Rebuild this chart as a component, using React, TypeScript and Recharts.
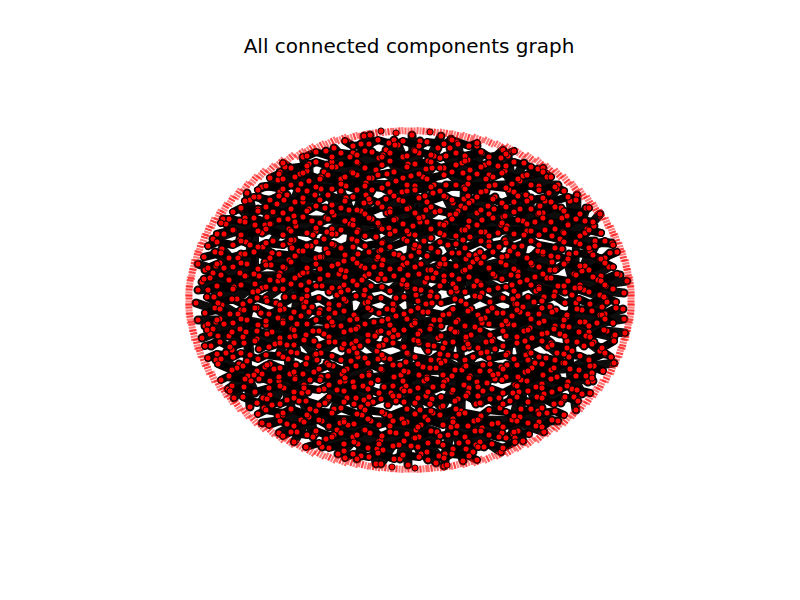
import { ScatterChart, Scatter, XAxis, YAxis } from "recharts";

type Pt = [number, number];

const TITLE = "All connected components graph";

// faint red ring of small components around the main component
const RING_CENTER: Pt = [410, 300];
const RING_BOTTOM_RIGHT: Pt[] = [[631,300],[631,309],[630,318],[628,326],[626,335],[623,344],[620,352],[616,361],[612,369],[607,377],[601,385],[595,392],[589,399],[582,406],[574,413],[566,420],[558,426],[549,431],[540,437],[530,442],[520,446],[510,451],[500,454],[489,458],[478,461],[467,463],[456,465],[445,467],[433,468],[422,469]];
const RING_BOTTOM_LEFT: Pt[] = [[410,469],[398,469],[387,468],[375,467],[364,465],[353,463],[342,461],[331,458],[320,454],[310,451],[300,446],[290,442],[280,437],[271,431],[262,426],[254,420],[246,413],[238,406],[231,399],[225,392],[219,385],[213,377],[208,369],[204,361],[200,352],[197,344],[194,335],[192,326],[190,318],[189,309]];
const RING_TOP_LEFT: Pt[] = [[189,300],[189,291],[190,282],[192,274],[194,265],[197,256],[200,248],[204,239],[208,231],[213,223],[219,215],[225,208],[231,201],[238,194],[246,187],[254,180],[262,174],[271,169],[280,163],[290,158],[300,154],[310,149],[320,146],[331,142],[342,139],[353,137],[364,135],[375,133],[387,132],[398,131]];
const RING_TOP_RIGHT: Pt[] = [[410,131],[422,131],[433,132],[445,133],[456,135],[467,137],[478,139],[489,142],[500,146],[510,149],[520,154],[530,158],[540,163],[549,169],[558,174],[566,180],[574,187],[582,194],[589,201],[595,208],[601,215],[607,223],[612,231],[616,239],[620,248],[623,256],[626,265],[628,274],[630,282],[631,291]];

// node clusters, first point of each list is the hub the others link to
const c1r0: Pt[] = [[309,181],[303,157],[309,164],[280,172],[285,167],[300,174],[307,171],[262,187],[278,180],[283,179],[301,184]];
const c2r0: Pt[] = [[366,183],[364,136],[370,135],[326,151],[334,148],[353,153],[361,144],[372,152],[327,165],[332,162],[350,157],[358,163],[379,158],[324,172],[336,167],[352,172],[357,175],[376,170],[321,177],[341,179],[346,186],[372,178]];
const c3r0: Pt[] = [[415,186],[389,143],[394,140],[412,135],[420,141],[441,136],[386,150],[398,145],[414,150],[419,153],[438,148],[383,155],[403,157],[408,164],[428,161],[434,156],[387,174],[394,171],[411,176],[426,169],[432,168],[388,184],[396,181],[423,177],[434,185]];
const c4r0: Pt[] = [[464,187],[451,139],[457,142],[450,148],[458,144],[477,146],[482,153],[503,150],[446,156],[462,163],[468,160],[485,165],[501,158],[444,168],[463,173],[470,170],[489,175],[498,166],[446,185],[468,184],[486,179],[495,185]];
const c5r0: Pt[] = [[512,184],[508,156],[524,163],[505,171],[523,176],[538,169],[543,168],[520,181],[539,186],[547,177],[558,185]];

const c0r1: Pt[] = [[255,225],[247,193],[241,209],[250,200],[223,219],[240,221],[245,218],[226,224],[234,230],[213,239],[224,234],[240,239],[246,242]];
const c1r1: Pt[] = [[288,219],[259,197],[280,192],[287,195],[298,190],[315,195],[258,209],[277,204],[284,200],[303,202],[309,209],[267,217],[273,212],[294,216],[312,221],[265,225],[271,224],[289,229],[296,226],[316,231],[262,233],[273,241],[290,243],[294,240],[313,235]];
const c2r1: Pt[] = [[353,220],[321,189],[341,191],[346,198],[366,195],[372,190],[325,208],[332,205],[349,210],[364,203],[370,202],[326,218],[334,215],[361,211],[372,219],[327,232],[332,229],[350,224],[358,230],[379,225],[324,239],[336,234],[352,239],[357,242],[376,237]];
const c3r1: Pt[] = [[413,226],[386,199],[402,192],[407,191],[425,196],[433,193],[390,209],[399,200],[409,208],[426,210],[431,207],[387,213],[396,219],[416,214],[423,217],[435,212],[389,228],[395,231],[420,222],[440,224],[383,242],[404,239],[409,234],[424,241],[431,238]];
const c4r1: Pt[] = [[462,230],[446,197],[464,199],[468,196],[486,191],[495,197],[453,203],[461,206],[472,201],[488,206],[494,209],[450,215],[458,211],[477,213],[482,220],[503,217],[446,223],[468,227],[485,232],[501,225],[444,235],[463,240],[470,237],[489,242],[498,233]];
const c5r1: Pt[] = [[527,231],[509,190],[526,195],[531,198],[549,193],[557,189],[514,202],[520,209],[540,206],[545,201],[561,208],[505,216],[523,221],[538,214],[543,213],[562,218],[507,226],[535,222],[545,230],[563,232],[505,240],[524,235],[532,241],[552,236],[560,239]];
const c6r1: Pt[] = [[576,242],[577,195],[570,201],[586,208],[567,216],[585,221],[600,214],[568,224],[587,229],[594,226],[585,233],[595,241],[612,243]];

const c0r2: Pt[] = [[255,284],[215,252],[222,249],[241,254],[250,245],[198,264],[216,266],[220,263],[238,258],[247,264],[205,270],[213,273],[224,268],[240,273],[246,276],[202,282],[210,278],[229,280],[234,287],[198,290],[214,297],[220,294],[237,299],[253,292]];
const c1r2: Pt[] = [[300,275],[263,247],[272,253],[292,248],[299,251],[311,246],[265,262],[271,265],[289,260],[296,256],[316,258],[259,276],[280,273],[285,268],[307,272],[262,288],[278,281],[283,280],[301,285],[309,282],[266,298],[275,289],[285,297],[302,299],[307,296]];
const c2r2: Pt[] = [[346,271],[326,249],[334,245],[353,247],[358,254],[379,251],[322,257],[338,264],[344,261],[361,266],[377,259],[320,269],[339,274],[365,276],[374,267],[322,286],[340,288],[344,285],[362,280],[371,286],[329,292],[337,295],[348,290],[364,295],[370,298]];
const c3r2: Pt[] = [[408,275],[381,250],[399,255],[414,248],[419,247],[438,252],[383,260],[403,265],[411,256],[421,264],[439,266],[381,274],[400,269],[428,270],[436,273],[385,279],[402,284],[407,287],[425,282],[433,278],[390,291],[396,298],[416,295],[421,290],[437,297]];
const c4r2: Pt[] = [[463,271],[448,245],[459,253],[476,255],[480,252],[499,247],[445,264],[466,259],[473,262],[484,257],[501,262],[444,276],[470,267],[489,269],[495,276],[453,284],[459,279],[474,286],[480,283],[498,288],[451,292],[457,291],[475,296],[482,293],[502,298]];
const c5r2: Pt[] = [[518,272],[510,251],[522,246],[538,251],[543,254],[562,249],[507,256],[527,258],[532,265],[552,262],[558,257],[511,275],[535,277],[550,270],[556,269],[512,285],[520,282],[539,287],[547,278],[558,286],[513,299],[518,296],[536,291],[544,297],[565,292]];
const c6r2: Pt[] = [[575,288],[569,254],[590,251],[595,246],[610,253],[567,261],[585,266],[600,259],[605,258],[574,274],[582,271],[601,276],[609,267],[620,275],[580,285],[598,280],[606,286],[627,281],[572,295],[584,290],[600,295],[605,298],[624,293]];

const c0r3: Pt[] = [[247,320],[196,303],[215,308],[222,305],[241,310],[250,301],[198,320],[216,322],[220,319],[238,314],[205,326],[213,329],[224,324],[240,329],[246,332],[202,338],[210,334],[229,336],[234,343],[255,340],[211,346],[226,353],[232,350],[250,355]];
const c1r3: Pt[] = [[292,329],[257,308],[276,303],[284,309],[304,304],[312,307],[261,313],[278,318],[283,321],[301,316],[309,312],[266,325],[272,332],[297,324],[313,331],[257,339],[275,344],[290,337],[295,336],[314,341],[259,349],[279,354],[287,345],[297,353],[315,355]];
const c2r3: Pt[] = [[351,330],[320,310],[339,305],[346,301],[365,303],[371,310],[329,318],[335,313],[350,320],[356,317],[374,322],[327,326],[333,325],[358,327],[378,332],[324,334],[335,342],[352,344],[356,341],[375,336],[321,353],[342,348],[349,351],[360,346],[377,351]];
const c3r3: Pt[] = [[412,325],[387,309],[394,306],[411,311],[426,304],[432,303],[388,319],[396,316],[415,321],[423,312],[434,320],[389,333],[394,330],[420,331],[441,326],[386,340],[398,335],[414,340],[419,343],[438,338],[383,345],[403,347],[408,354],[428,351],[434,346]];
const c4r3: Pt[] = [[458,320],[452,310],[461,301],[471,309],[488,311],[493,308],[449,314],[478,315],[485,318],[497,313],[451,329],[457,332],[475,327],[482,323],[502,325],[445,343],[466,340],[471,335],[486,342],[493,339],[448,355],[464,348],[469,347],[487,352],[495,349]];
const c5r3: Pt[] = [[512,316],[515,304],[523,307],[534,302],[550,307],[556,310],[520,312],[539,314],[544,321],[565,318],[508,324],[524,331],[530,328],[547,333],[563,326],[506,336],[525,341],[532,338],[551,343],[560,334],[508,353],[526,355],[530,352],[548,347],[557,353]];
const c6r3: Pt[] = [[569,327],[576,303],[582,310],[602,307],[607,302],[623,309],[567,317],[585,322],[600,315],[605,314],[624,319],[589,332],[597,323],[607,331],[625,333],[567,341],[586,336],[594,342],[614,337],[572,351],[584,346],[600,351],[605,354]];

const c0r4: Pt[] = [[248,376],[216,360],[221,359],[239,364],[247,361],[229,377],[237,368],[228,389],[232,386],[251,381],[234,398],[255,393],[250,407]];
const c1r4: Pt[] = [[290,374],[265,367],[270,364],[288,359],[296,365],[317,360],[262,374],[274,369],[295,377],[314,372],[259,379],[279,381],[284,388],[304,385],[310,380],[263,398],[270,395],[287,400],[302,393],[308,392],[264,408],[272,405],[291,410],[299,401],[310,409]];
const c2r4: Pt[] = [[345,381],[327,363],[333,366],[351,361],[358,357],[378,359],[321,377],[342,374],[347,369],[362,376],[369,373],[324,389],[340,382],[363,386],[371,383],[328,399],[337,390],[347,398],[364,400],[369,397],[325,403],[334,409],[354,404],[361,407],[373,402]];
const c3r4: Pt[] = [[408,372],[384,358],[400,365],[406,362],[423,367],[439,360],[382,370],[401,375],[427,377],[436,368],[384,387],[402,389],[406,386],[424,381],[433,387],[391,393],[399,396],[410,391],[426,396],[432,399],[388,405],[396,401],[415,403],[420,410],[441,407]];
const c4r4: Pt[] = [[462,370],[445,361],[465,366],[473,357],[483,365],[501,367],[443,375],[470,376],[490,371],[498,374],[447,380],[464,385],[469,388],[487,383],[495,379],[452,392],[458,399],[478,396],[483,391],[499,398],[443,406],[461,411],[476,404],[481,403],[500,408]];
const c5r4: Pt[] = [[525,372],[507,365],[528,360],[535,363],[546,358],[563,363],[506,377],[532,368],[551,370],[557,377],[515,385],[521,380],[536,387],[542,384],[560,389],[513,393],[519,392],[537,397],[544,394],[564,399],[510,401],[521,409],[538,411],[542,408],[561,403]];
const c6r4: Pt[] = [[570,369],[569,357],[589,359],[594,366],[614,363],[586,376],[592,373],[572,389],[588,382],[593,381],[574,397],[582,394],[576,410]];

const c1r5: Pt[] = [[309,417],[262,423],[278,416],[283,415],[301,420],[279,433],[287,424],[297,432],[315,434],[294,442],[313,437]];
const c2r5: Pt[] = [[371,421],[322,421],[340,423],[344,420],[362,415],[329,427],[337,430],[348,425],[364,430],[370,433],[326,439],[334,435],[353,437],[358,444],[379,441],[322,447],[338,454],[344,451],[361,456],[377,449],[357,459],[376,464]];
const c3r5: Pt[] = [[407,422],[385,414],[402,419],[425,417],[433,413],[390,426],[396,433],[416,430],[421,425],[437,432],[381,440],[399,445],[414,438],[419,437],[438,442],[383,450],[403,455],[411,446],[421,454],[439,456],[381,464],[400,459],[408,465],[428,460],[436,463]];
const c4r5: Pt[] = [[453,419],[459,414],[474,421],[480,418],[498,423],[451,427],[457,426],[475,431],[482,428],[502,433],[448,435],[459,443],[476,445],[480,442],[499,437],[445,454],[466,449],[473,452],[484,447],[501,452],[444,466],[463,461]];
const c5r5: Pt[] = [[512,420],[520,417],[539,422],[547,413],[558,421],[513,434],[518,431],[536,426],[544,432],[515,438],[523,441]];

// loose nodes at the very top and bottom edge
const EDGE_NODES: Pt[] = [[381,131],[396,133],[430,132],[392,467],[415,468],[447,465]];

// further nodes lying between the clusters, each row linked as a chain
const FILL_TOP: Pt[][] = [
  [[345,141],[353,146],[369,144],[378,140],[395,145],[403,141],[419,146],[427,142],[444,144],[452,140],[469,146],[477,143]],
  [[307,156],[316,152],[332,157],[341,153],[357,155],[365,151],[382,157],[390,153],[407,156],[415,151],[431,155],[440,158],[456,153],[465,156],[481,152],[489,157],[506,154],[514,151]],
  [[283,163],[291,168],[307,166],[316,162],[332,167],[341,164],[357,162],[365,168],[382,165],[390,161],[407,167],[415,164],[431,162],[440,168],[456,165],[465,161],[481,167],[489,163],[506,166],[514,162],[531,167]],
  [[270,178],[279,174],[295,177],[303,173],[320,179],[328,175],[345,177],[353,173],[369,178],[378,175],[394,172],[403,178],[419,174],[427,179],[444,175],[452,172],[469,178],[477,174],[493,177],[502,173],[518,179],[527,175],[543,172],[551,177]],
  [[258,190],[266,186],[283,189],[291,185],[307,191],[316,187],[332,189],[341,184],[357,190],[365,186],[382,188],[390,192],[407,185],[415,190],[431,187],[440,191],[456,185],[465,189],[481,192],[489,186],[506,188],[514,192],[531,185],[539,190],[555,187],[564,191]],
  [[245,201],[254,197],[270,200],[279,196],[295,202],[303,198],[320,200],[328,195],[345,201],[353,197],[369,199],[378,203],[394,196],[403,201],[419,198],[427,202],[444,196],[452,200],[469,203],[477,197],[493,199],[502,203],[518,196],[527,201],[543,198],[551,202],[568,197],[576,200]],
];
const FILL_UPPER: Pt[][] = [
  [[233,212],[241,208],[258,211],[266,207],[283,213],[291,209],[307,211],[316,206],[332,212],[341,208],[357,210],[365,214],[382,207],[390,212],[407,209],[415,213],[431,207],[440,211],[456,214],[465,208],[481,210],[489,214],[506,207],[514,212],[531,209],[539,213],[555,207],[564,211],[580,214],[589,208]],
  [[221,223],[229,219],[245,222],[254,218],[270,224],[279,220],[295,222],[303,217],[320,223],[328,219],[345,221],[353,225],[369,218],[378,223],[394,220],[403,224],[419,218],[427,222],[444,225],[452,219],[469,221],[477,225],[493,218],[502,223],[518,220],[527,224],[543,218],[551,222],[568,225],[576,219],[593,222]],
  [[217,234],[233,230],[241,235],[258,231],[266,229],[283,235],[291,231],[307,233],[316,228],[332,234],[341,230],[357,232],[365,236],[382,229],[390,234],[407,231],[415,235],[431,229],[440,233],[456,236],[465,230],[481,232],[489,236],[506,229],[514,234],[531,231],[539,235],[555,229],[564,233],[580,236],[589,230],[601,233]],
  [[208,246],[217,242],[233,245],[241,241],[258,247],[266,243],[283,245],[291,240],[307,246],[316,242],[332,244],[341,248],[357,241],[365,246],[382,243],[390,247],[407,241],[415,245],[431,248],[440,242],[456,244],[465,248],[481,241],[489,246],[506,243],[514,247],[531,241],[539,245],[555,248],[564,242],[580,244],[589,248],[605,241],[613,245]],
  [[204,257],[221,253],[229,258],[245,254],[254,252],[270,258],[279,254],[295,256],[303,251],[320,257],[328,253],[345,255],[353,259],[369,252],[378,257],[394,254],[403,258],[419,252],[427,256],[444,259],[452,253],[469,255],[477,259],[493,252],[502,257],[518,254],[527,258],[543,252],[551,256],[568,259],[576,253],[593,255],[601,259],[617,252]],
  [[208,268],[217,264],[233,267],[241,263],[258,269],[266,265],[283,267],[291,262],[307,268],[316,264],[332,266],[341,270],[357,263],[365,268],[382,265],[390,269],[407,263],[415,267],[431,270],[440,264],[456,266],[465,270],[481,263],[489,268],[506,265],[514,269],[531,263],[539,267],[555,270],[564,264],[580,266],[589,270],[605,263],[613,267]],
];
const FILL_MIDDLE: Pt[][] = [
  [[204,279],[221,275],[229,280],[245,276],[254,274],[270,280],[279,276],[295,278],[303,273],[320,279],[328,275],[345,277],[353,281],[369,274],[378,279],[394,276],[403,280],[419,274],[427,278],[444,281],[452,275],[469,277],[477,281],[493,274],[502,279],[518,276],[527,280],[543,274],[551,278],[568,281],[576,275],[593,277],[601,281],[617,274]],
  [[208,290],[217,286],[233,289],[241,285],[258,291],[266,287],[283,289],[291,284],[307,290],[316,286],[332,288],[341,292],[357,285],[365,290],[382,287],[390,291],[407,285],[415,289],[431,292],[440,286],[456,288],[465,292],[481,285],[489,290],[506,287],[514,291],[531,285],[539,289],[555,292],[564,286],[580,288],[589,292],[605,285],[613,289]],
  [[207,297],[218,303],[232,299],[243,304],[257,298],[267,301],[280,305],[294,297],[306,302],[319,298],[329,304],[344,299],[356,296],[368,302],[381,298],[393,304],[404,297],[418,301],[430,296],[441,303],[455,299],[466,304],[480,297],[490,302],[503,298],[517,304],[528,297],[542,301],[554,296],[565,303],[579,299],[590,304],[604,297],[616,302]],
  [[205,313],[220,309],[230,314],[244,310],[255,308],[269,314],[280,310],[294,312],[304,307],[319,313],[329,309],[344,311],[354,315],[368,308],[379,313],[393,310],[404,314],[418,308],[428,312],[443,315],[453,309],[468,311],[478,315],[492,308],[503,313],[517,310],[528,314],[542,308],[552,312],[567,315],[577,309],[592,311],[602,315],[616,308]],
  [[208,324],[217,320],[233,323],[241,319],[258,325],[266,321],[283,323],[291,318],[307,324],[316,320],[332,322],[341,326],[357,319],[365,324],[382,321],[390,325],[407,319],[415,323],[431,326],[440,320],[456,322],[465,326],[481,319],[489,324],[506,321],[514,325],[531,319],[539,323],[555,326],[564,320],[580,322],[589,326],[605,319],[613,323]],
  [[207,330],[218,336],[232,332],[243,337],[257,331],[267,334],[280,338],[294,330],[306,335],[319,331],[329,337],[344,332],[356,329],[368,335],[381,331],[393,337],[404,330],[418,334],[430,329],[441,336],[455,332],[466,337],[480,330],[490,335],[503,331],[517,337],[528,330],[542,334],[554,329],[565,336],[579,332],[590,337],[604,330],[615,335]],
  [[205,346],[220,342],[230,347],[244,343],[255,341],[269,347],[280,343],[294,345],[304,340],[319,346],[329,342],[344,344],[354,348],[368,341],[379,346],[393,343],[404,347],[418,341],[428,345],[443,348],[453,342],[468,344],[478,348],[492,341],[503,346],[517,343],[528,347],[542,341],[552,345],[567,348],[577,342],[592,344],[602,348],[614,341]],
];
const FILL_LOWER: Pt[][] = [
  [[208,358],[217,354],[233,357],[241,353],[258,359],[266,355],[283,357],[291,352],[307,358],[316,354],[332,356],[341,360],[357,353],[365,358],[382,355],[390,359],[407,353],[415,357],[431,360],[440,354],[456,356],[465,360],[481,353],[489,358],[506,355],[514,359],[531,353],[539,357],[555,360],[564,354],[580,356],[589,360],[605,353],[611,357]],
  [[218,364],[232,370],[243,366],[257,371],[267,365],[280,368],[294,372],[306,364],[319,369],[329,365],[344,371],[356,366],[368,363],[381,369],[393,365],[404,371],[418,364],[430,368],[441,363],[455,370],[466,366],[480,371],[490,364],[503,369],[517,365],[528,371],[542,364],[554,368],[565,363],[579,370],[590,366],[603,371]],
  [[221,380],[229,376],[245,379],[254,375],[270,381],[279,377],[295,379],[303,374],[320,380],[328,376],[345,378],[353,382],[369,375],[378,380],[394,377],[403,381],[419,375],[427,379],[444,382],[452,376],[469,378],[477,382],[493,375],[502,380],[518,377],[527,381],[543,375],[551,379],[568,382],[576,376],[592,378]],
  [[230,391],[244,387],[255,392],[269,388],[280,386],[294,392],[304,388],[319,390],[329,385],[344,391],[354,387],[368,389],[379,393],[393,386],[404,391],[418,388],[428,392],[443,386],[453,390],[468,393],[478,387],[492,389],[503,393],[517,386],[528,391],[542,388],[552,392],[567,386],[577,390],[590,393]],
  [[243,397],[257,403],[267,399],[280,404],[294,398],[306,401],[319,405],[329,397],[344,402],[356,398],[368,404],[381,399],[393,396],[404,402],[418,398],[430,404],[441,397],[455,401],[466,396],[480,403],[490,399],[503,404],[517,397],[528,402],[542,398],[554,404],[565,397],[578,401]],
  [[258,414],[266,410],[283,413],[291,409],[307,415],[316,411],[332,413],[341,408],[357,414],[365,410],[382,412],[390,416],[407,409],[415,414],[431,411],[440,415],[456,409],[465,413],[481,416],[489,410],[506,412],[514,416],[531,409],[539,414],[555,411],[564,415]],
];
const FILL_BOTTOM: Pt[][] = [
  [[269,425],[280,421],[294,426],[304,422],[319,420],[329,426],[344,422],[354,424],[368,419],[379,425],[393,421],[404,423],[418,427],[428,420],[443,425],[453,422],[468,426],[478,420],[492,424],[503,427],[517,421],[528,423],[542,427],[552,420]],
  [[283,436],[291,432],[307,435],[316,431],[332,437],[341,433],[357,435],[365,430],[382,436],[390,432],[407,434],[415,438],[431,431],[440,436],[456,433],[465,437],[481,431],[489,435],[506,438],[514,432],[529,434]],
  [[306,447],[319,443],[329,448],[344,444],[354,442],[368,448],[379,444],[393,446],[404,441],[418,447],[428,443],[443,445],[453,449],[468,442],[478,447],[492,444],[503,448],[515,442]],
  [[345,458],[353,454],[369,457],[378,453],[394,459],[403,455],[419,457],[427,452],[444,458],[452,454],[469,456],[477,460]],
];

const GROUPS: Pt[][] = [
  c1r0, c2r0, c3r0, c4r0, c5r0,
  c0r1, c1r1, c2r1, c3r1, c4r1, c5r1, c6r1,
  c0r2, c1r2, c2r2, c3r2, c4r2, c5r2, c6r2,
  c0r3, c1r3, c2r3, c3r3, c4r3, c5r3, c6r3,
  c0r4, c1r4, c2r4, c3r4, c4r4, c5r4, c6r4,
  c1r5, c2r5, c3r5, c4r5, c5r5,
];

const HUB_LINKS: [Pt[], Pt[]][] = [
  [c1r0, c2r0], [c2r0, c3r0], [c3r0, c4r0], [c4r0, c5r0],
  [c0r1, c1r1], [c1r1, c2r1], [c2r1, c3r1], [c3r1, c4r1], [c4r1, c5r1], [c5r1, c6r1],
  [c0r2, c1r2], [c1r2, c2r2], [c2r2, c3r2], [c3r2, c4r2], [c4r2, c5r2], [c5r2, c6r2],
  [c0r3, c1r3], [c1r3, c2r3], [c2r3, c3r3], [c3r3, c4r3], [c4r3, c5r3], [c5r3, c6r3],
  [c0r4, c1r4], [c1r4, c2r4], [c2r4, c3r4], [c3r4, c4r4], [c4r4, c5r4], [c5r4, c6r4],
  [c1r5, c2r5], [c2r5, c3r5], [c3r5, c4r5], [c4r5, c5r5],
  [c1r0, c1r1], [c2r0, c2r1], [c3r0, c3r1], [c4r0, c4r1], [c5r0, c5r1],
  [c0r1, c0r2], [c1r1, c1r2], [c2r1, c2r2], [c3r1, c3r2], [c4r1, c4r2], [c5r1, c5r2], [c6r1, c6r2],
  [c0r2, c0r3], [c1r2, c1r3], [c2r2, c2r3], [c3r2, c3r3], [c4r2, c4r3], [c5r2, c5r3], [c6r2, c6r3],
  [c0r3, c0r4], [c1r3, c1r4], [c2r3, c2r4], [c3r3, c3r4], [c4r3, c4r4], [c5r3, c5r4], [c6r3, c6r4],
  [c1r4, c1r5], [c2r4, c2r5], [c3r4, c3r5], [c4r4, c4r5], [c5r4, c5r5],
];

const FILL_ROWS: Pt[][] = [...FILL_TOP, ...FILL_UPPER, ...FILL_MIDDLE, ...FILL_LOWER, ...FILL_BOTTOM];

const toXY = ([x, y]: Pt) => ({ x, y });
const starData = (g: Pt[]) => g.slice(1).flatMap(p => [toXY(p), toXY(g[0])]);

const nodeData = [...GROUPS.flat(), ...FILL_ROWS.flat(), ...EDGE_NODES].map(toXY);
const ringData = [...RING_BOTTOM_RIGHT, ...RING_BOTTOM_LEFT, ...RING_TOP_LEFT, ...RING_TOP_RIGHT].map(toXY);

const starLine = {
  stroke: "#000", strokeWidth: 9, strokeOpacity: 0.95,
  strokeLinejoin: "round" as const, strokeLinecap: "round" as const,
};
const linkLine = { ...starLine, strokeWidth: 8 };
const chainLine = { ...starLine, strokeWidth: 8, strokeOpacity: 1 };

const NoDot = () => <g />;

const NodeDot = (p: any) => (
  <circle cx={p.cx} cy={p.cy} r={3.1} fill="#ff0000" stroke="#000" strokeWidth={0.9} />
);

const STREAKS = [
  { off: -4.5, op: 0.6 }, { off: -1.5, op: 0.5 }, { off: 1.5, op: 0.75 }, { off: 4.5, op: 0.55 },
];

const RingDash = (p: any) => {
  const deg = (Math.atan2(p.payload.y - RING_CENTER[1], p.payload.x - RING_CENTER[0]) * 180) / Math.PI;
  return (
    <g transform={`rotate(${deg} ${p.cx} ${p.cy})`}>
      {STREAKS.map((s, i) => (
        <line
          key={i} x1={p.cx - 3.5} x2={p.cx + 3.5} y1={p.cy + s.off} y2={p.cy + s.off}
          stroke="#ff0000" strokeOpacity={s.op} strokeWidth={2.2}
        />
      ))}
    </g>
  );
};

export default function App() {
  return (
    <div style={{ position: "absolute", left: 0, top: 0, width: 800, height: 600, background: "#fff" }}>
      <div
        style={{
          position: "absolute", left: 9, top: 36, width: 800, textAlign: "center",
          fontFamily: "'DejaVu Sans', sans-serif", fontSize: 20, lineHeight: "20px", color: "#000",
        }}
      >
        {TITLE}
      </div>
      <ScatterChart width={800} height={600} margin={{ top: 0, right: 0, bottom: 0, left: 0 }}>
        <XAxis type="number" dataKey="x" domain={[0, 800]} allowDataOverflow hide />
        <YAxis type="number" dataKey="y" domain={[0, 600]} allowDataOverflow reversed hide />
        {FILL_ROWS.map((row, i) => (
          <Scatter
            key={`chain-${i}`} data={row.map(toXY)}
            line={chainLine} lineType="joint" shape={NoDot} isAnimationActive={false}
          />
        ))}
        {HUB_LINKS.map(([a, b], i) => (
          <Scatter
            key={`link-${i}`} data={[toXY(a[0]), toXY(b[0])]}
            line={linkLine} lineType="joint" shape={NoDot} isAnimationActive={false}
          />
        ))}
        {GROUPS.map((g, i) => (
          <Scatter
            key={`star-${i}`} data={starData(g)}
            line={starLine} lineType="joint" shape={NoDot} isAnimationActive={false}
          />
        ))}
        <Scatter data={ringData} shape={RingDash} isAnimationActive={false} />
        <Scatter data={nodeData} shape={NodeDot} isAnimationActive={false} />
      </ScatterChart>
    </div>
  );
}
